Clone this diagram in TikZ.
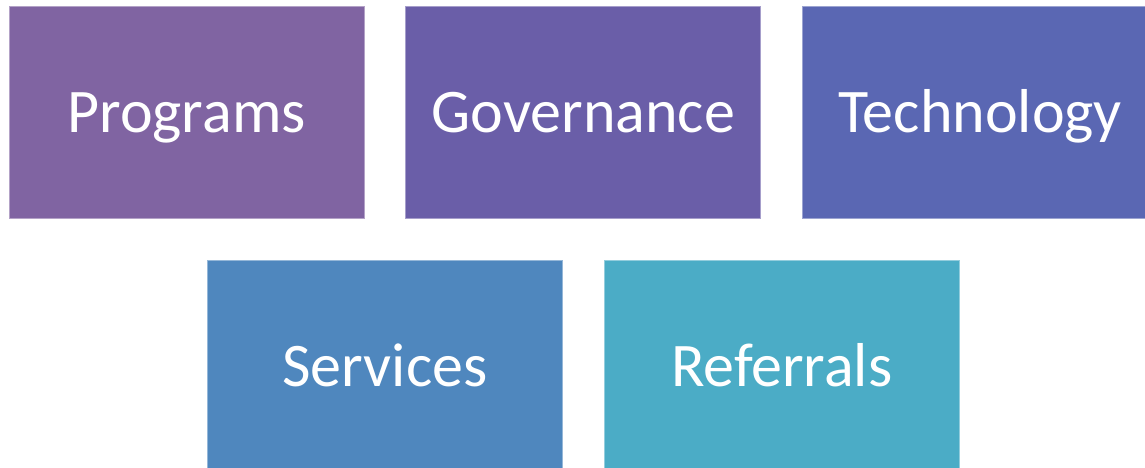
\documentclass[tikz,border=0pt]{standalone}
\usepackage{fontspec}
\setmainfont{Carlito}
\usetikzlibrary{positioning,calc}

\definecolor{progcol}{HTML}{8064A2}
\definecolor{govcol}{HTML}{6A5EA8}
\definecolor{techcol}{HTML}{5A67B3}
\definecolor{servcol}{HTML}{4F87BE}
\definecolor{refcol}{HTML}{4BACC6}

\tikzset{
  tile/.style={rectangle, minimum width=355pt, minimum height=212pt,
    inner sep=0pt, line width=0.8pt, text=white,
    font=\fontsize{62}{62}\selectfont, text height=40pt, text depth=0pt}
}

\begin{document}
\begin{tikzpicture}[x=1pt,y=1pt]
  \useasboundingbox (0,0) rectangle (1145,-468);
  \clip (0,0) rectangle (1145,-468);

  % top row
  \node[tile, fill=progcol, draw=progcol!60!white] (prog) at (186.5,-112) {Programs};
  \node[tile, fill=govcol, draw=govcol!60!white, right=41pt of prog] (gov) {Governance};
  \node[tile, fill=techcol, draw=techcol!60!white, right=41pt of gov] (tech) {Technology};

  % bottom row
  \coordinate (gap) at ($(prog.south east)!.5!(gov.south west)$);
  \node[tile, fill=servcol, draw=servcol!60!white, below=42pt of gap] (serv) {Services};
  \node[tile, fill=refcol, draw=refcol!60!white, right=41pt of serv] (ref) {Referrals};
\end{tikzpicture}
\end{document}
